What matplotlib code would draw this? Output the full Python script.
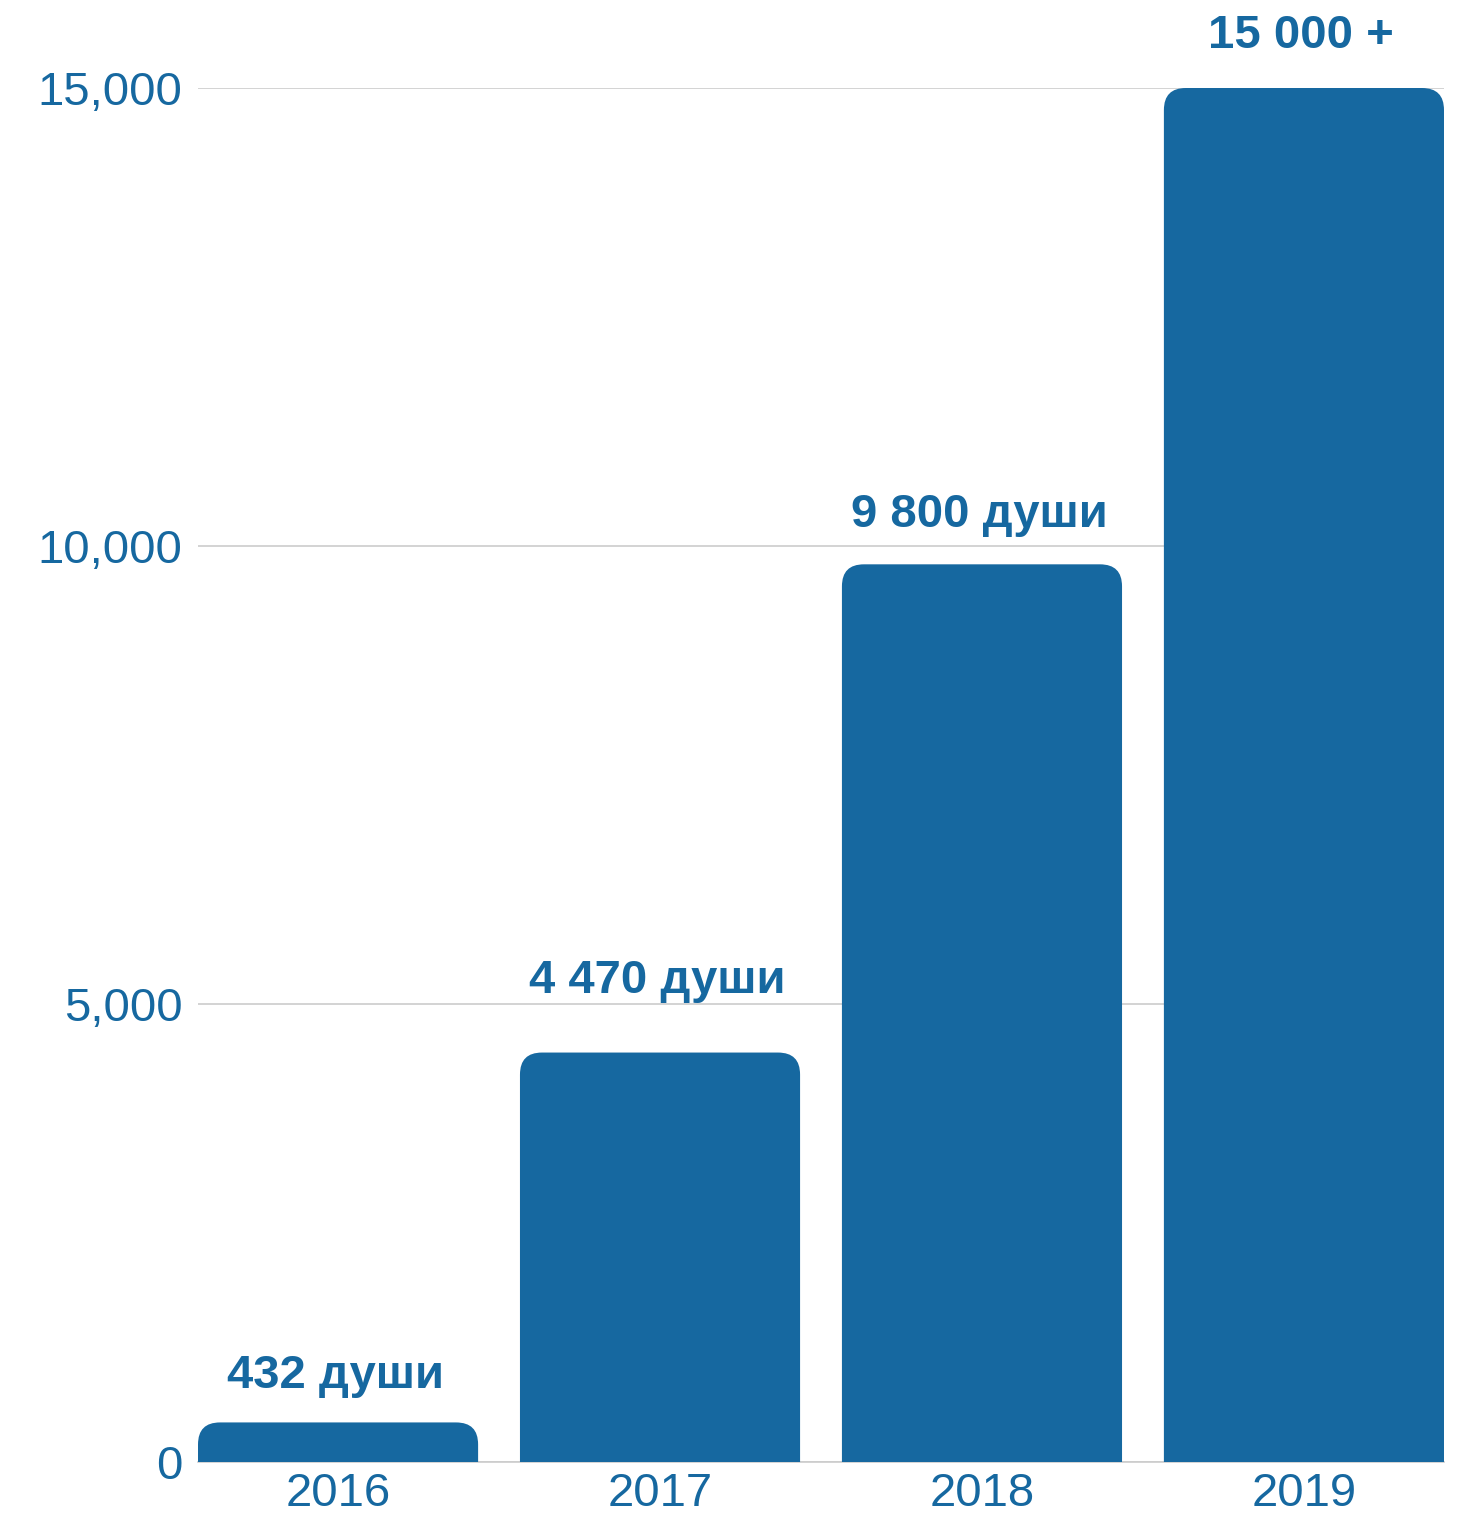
import matplotlib
matplotlib.use("Agg")
import matplotlib.pyplot as plt
from matplotlib.patches import FancyBboxPatch

# Data
years = ["2016", "2017", "2018", "2019"]
values = [432, 4470, 9800, 15000]
labels = ["432 души", "4 470 души", "9 800 души", "15 000 +"]
yticks = [0, 5000, 10000, 15000]
ytick_labels = ["0", "5,000", "10,000", "15,000"]

blue = "#1668a0"
grid_gray = "#cccccc"

plt.rcParams["font.family"] = ["Liberation Sans", "DejaVu Sans"]

W, H, DPI = 1465, 1513, 100
fig = plt.figure(figsize=(W / DPI, H / DPI), dpi=DPI)
ax = fig.add_axes([198 / W, 1 - 1462 / H, (1444 - 198) / W, (1462 - 88) / H])

width = 0.87
ax.set_xlim(-width / 2, len(years) - 1 + width / 2)
ax.set_ylim(0, 15000)

# data units per pixel, used to keep corners round
ax_w_px = 1444 - 198
ax_h_px = 1462 - 88
x_per_px = (len(years) - 1 + width) / ax_w_px
y_per_px = 15000 / ax_h_px
aspect = y_per_px / x_per_px
r = 22 * x_per_px

for i, v in enumerate(values):
    bottom = -r * aspect * 1.2
    box = FancyBboxPatch((i - width / 2, bottom), width, v - bottom,
                         boxstyle=f"round,pad=0,rounding_size={r}",
                         mutation_aspect=aspect, facecolor=blue,
                         edgecolor="none", zorder=3, clip_on=True)
    ax.add_patch(box)

# value labels above bars (offsets in pixels)
label_pad = [24, 50, 27, 30]
for i, (v, lab) in enumerate(zip(values, labels)):
    ax.annotate(lab, (i, v), xytext=(-3 * 72 / DPI, label_pad[i] * 72 / DPI),
                textcoords="offset points", ha="center", va="bottom",
                fontsize=34, fontweight="bold", color=blue,
                annotation_clip=False)

ax.set_xticks(range(len(years)))
ax.set_xticklabels(years)
ax.set_yticks(yticks)
ax.set_yticklabels(ytick_labels)
ax.tick_params(axis="both", length=0, labelsize=34, labelcolor=blue)
ax.tick_params(axis="y", pad=11)
ax.tick_params(axis="x", pad=7)

ax.grid(axis="y", color=grid_gray, lw=1.2, zorder=0)
ax.set_axisbelow(True)
for s in ["top", "right", "left"]:
    ax.spines[s].set_visible(False)
ax.spines["bottom"].set_color(grid_gray)
ax.spines["bottom"].set_linewidth(1.2)
ax.spines["bottom"].set_zorder(1)

fig.savefig("out.png", dpi=DPI)
